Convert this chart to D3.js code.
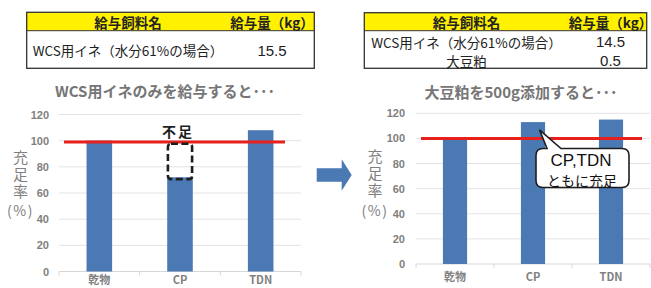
<!DOCTYPE html>
<html><head><meta charset="utf-8">
<script src="https://cdn.jsdelivr.net/npm/d3@7/dist/d3.min.js"></script>
<style>
html,body{margin:0;padding:0;background:#fff;}
svg{display:block;}
</style></head>
<body>
<svg id="c" width="651" height="288"></svg>
<script>
// ---- data ----
const categories = ["乾物", "CP", "TDN"];
const valuesBefore = [100, 72, 108];   // WCS用イネのみ
const valuesAfter = [99, 113, 115];    // 大豆粕500g添加
const requirementBefore = 99;
const requirementAfter = 100;
const yTicks = [0, 20, 40, 60, 80, 100, 120];
const tableHeader = ["給与飼料名", "給与量（kg）"];
const tableLeftFeeds = ["WCS用イネ（水分61%の場合）"];
const tableLeftAmounts = ["15.5"];
const tableRightFeeds = ["WCS用イネ（水分61%の場合）", "大豆粕"];
const tableRightAmounts = ["14.5", "0.5"];
const titleLeft = "WCS用イネのみを給与すると･･･";
const titleRight = "大豆粕を500g添加すると･･･";
const yTitleMain = "充足率";
const yTitleUnit = "(%)";
const shortLabel = "不足";
const calloutLines = ["CP,TDN", "ともに充足"];

// ---- style ----
const JP = "'Noto Sans CJK JP','Noto Sans',sans-serif";
const NUM = "'Liberation Sans',Arial,sans-serif";
const barColor = "#4a79b4";
const svg = d3.select("#c");

// ---- tables ----
function drawTable(x0, x1, y0, headerH, rowYs, feeds, amounts, bottom, colCenters) {
  const g = svg.append("g");
  g.append("rect").attr("x", x0).attr("y", y0).attr("width", x1 - x0).attr("height", headerH)
    .attr("fill", "#fff100");
  g.append("rect").attr("x", x0).attr("y", y0).attr("width", x1 - x0).attr("height", bottom - y0)
    .attr("fill", "none").attr("stroke", "#333").attr("stroke-width", 1.3);
  g.append("line").attr("x1", x0).attr("x2", x1).attr("y1", y0 + headerH).attr("y2", y0 + headerH)
    .attr("stroke", "#333").attr("stroke-width", 1);
  tableHeader.forEach((t, i) => {
    g.append("text").attr("x", colCenters[i]).attr("y", y0 + headerH / 2 + 0.5)
      .attr("text-anchor", "middle").attr("dominant-baseline", "central")
      .attr("font-family", JP).attr("font-weight", "bold").attr("font-size", 13.5)
      .attr("fill", "#222").text(t);
  });
  feeds.forEach((t, i) => {
    g.append("text").attr("x", colCenters[0]).attr("y", rowYs[i])
      .attr("text-anchor", "middle").attr("dominant-baseline", "central")
      .attr("font-family", JP).attr("font-size", 13.5).attr("fill", "#222").text(t);
    g.append("text").attr("x", colCenters[1]).attr("y", rowYs[i])
      .attr("text-anchor", "middle").attr("dominant-baseline", "central")
      .attr("font-family", NUM).attr("font-size", 15).attr("fill", "#222").text(amounts[i]);
  });
}
drawTable(26.7, 314.3, 12.3, 18.4, [50], tableLeftFeeds, tableLeftAmounts, 68.3, [128, 272]);
drawTable(364.3, 646.7, 12.7, 18, [41.7, 60.7], tableRightFeeds, tableRightAmounts, 68.3, [466.5, 610.5]);

// ---- charts ----
function drawChart(opt) {
  const g = svg.append("g");
  const y = d3.scaleLinear().domain([0, 120]).range([opt.y0, opt.y120]);
  const x = d3.scaleBand().domain(categories).range([opt.xl, opt.xr])
    .paddingInner(opt.pad).paddingOuter(opt.pad / 2);

  // gridlines
  g.selectAll(".grid").data(yTicks.filter(d => d > 0)).join("line")
    .attr("x1", opt.xl).attr("x2", opt.xr)
    .attr("y1", d => y(d)).attr("y2", d => y(d))
    .attr("stroke", "#e3e3e3").attr("stroke-width", 1);

  // y axis labels
  const ya = g.append("g").attr("transform", `translate(${opt.labelX},0)`)
    .call(d3.axisLeft(y).tickValues(yTicks).tickSize(0).tickPadding(0));
  ya.select(".domain").remove();
  ya.selectAll("text").attr("font-family", NUM).attr("font-weight", "bold")
    .attr("font-size", 11).attr("fill", "#808080");

  // x baseline + separator ticks
  g.append("line").attr("x1", opt.xl).attr("x2", opt.xr).attr("y1", y(0)).attr("y2", y(0))
    .attr("stroke", "#d6d6d6").attr("stroke-width", 1);
  const bounds = categories.map(c => x(c) - x.step() * opt.pad / 2).concat([opt.xr]);
  g.selectAll(".sep").data(bounds).join("line")
    .attr("x1", d => d).attr("x2", d => d).attr("y1", y(0)).attr("y2", y(0) + 4)
    .attr("stroke", "#d6d6d6");

  // bars
  g.selectAll(".bar").data(opt.values).join("rect")
    .attr("x", (d, i) => x(categories[i])).attr("width", x.bandwidth())
    .attr("y", d => y(d)).attr("height", d => y(0) - y(d))
    .attr("fill", barColor);

  // x labels
  const xa = g.append("g").attr("transform", `translate(0,${y(0) + opt.xLabelDy})`)
    .call(d3.axisBottom(x).tickSize(0).tickPadding(0));
  xa.select(".domain").remove();
  xa.selectAll("text").attr("font-family", JP).attr("font-weight", "bold")
    .attr("font-size", 11).attr("fill", "#808080").attr("dy", "0.32em");

  // requirement line
  g.append("line").attr("x1", opt.redX1).attr("x2", opt.redX2)
    .attr("y1", y(opt.req)).attr("y2", y(opt.req))
    .attr("stroke", "#e8201c").attr("stroke-width", 3);

  // title
  g.append("text").attr("x", opt.titleX).attr("y", opt.titleY)
    .attr("text-anchor", "middle").attr("dominant-baseline", "central")
    .attr("font-family", JP).attr("font-weight", "bold").attr("font-size", 15)
    .attr("fill", "#767676").text(opt.title);

  // y axis title: vertical text + unit
  g.append("text").attr("x", opt.yTitleX).attr("y", opt.yTitleY - 7.5)
    .style("writing-mode", "vertical-rl")
    .attr("letter-spacing", 2)
    .attr("font-family", JP).attr("font-size", 15).attr("fill", "#808080")
    .text(yTitleMain);
  g.append("text").attr("x", opt.yTitleX).attr("y", opt.yTitleY + 53)
    .attr("text-anchor", "middle").attr("dominant-baseline", "central")
    .attr("letter-spacing", 1.5)
    .attr("font-family", JP).attr("font-size", 14).attr("fill", "#808080")
    .text(yTitleUnit);
  return { g, x, y };
}

const L = drawChart({
  y0: 271.5, y120: 114.5, xl: 59, xr: 301, pad: 0.683, labelX: 49,
  values: valuesBefore, req: requirementBefore, redX1: 64, redX2: 285,
  title: titleLeft, titleX: 165, titleY: 90, yTitleX: 20.5, yTitleY: 157, xLabelDy: 8.5
});
const R = drawChart({
  y0: 264, y120: 113.3, xl: 416, xr: 650, pad: 0.69, labelX: 405,
  values: valuesAfter, req: requirementAfter, redX1: 421, redX2: 642,
  title: titleRight, titleX: 521, titleY: 91.5, yTitleX: 375, yTitleY: 156.5, xLabelDy: 13.7
});

// ---- annotations left: 不足 ----
{
  const x = L.x, y = L.y, bw = L.x.bandwidth();
  const cx = x("CP");
  L.g.append("rect").attr("x", cx + 0.7).attr("y", y(requirementBefore) + 1.8)
    .attr("width", bw - 1.4).attr("height", y(valuesBefore[1]) - y(requirementBefore))
    .attr("rx", 3).attr("fill", "none").attr("stroke", "#1e1e1e")
    .attr("stroke-width", 2.6).attr("stroke-dasharray", "7,3.5");
  L.g.append("text").attr("x", cx + bw / 2 - 2).attr("y", 131)
    .attr("text-anchor", "middle").attr("dominant-baseline", "central")
    .attr("font-family", JP).attr("font-weight", "bold").attr("font-size", 14)
    .attr("letter-spacing", 2).attr("fill", "#1e1e1e").text(shortLabel);
}

// ---- annotations right: callout ----
{
  const x = R.x, y = R.y, bw = R.x.bandwidth();
  const tipX = x("CP") + bw / 2 + 6.5, tipY = y(valuesAfter[1]) + 7.8;
  const x0 = 536, x1 = 629, y0 = 148.5, y1 = 187.5, r = 7, pb1 = 547, pb2 = 561;
  const p = `M${x0 + r},${y0} L${pb1},${y0} L${tipX},${tipY} L${pb2},${y0} L${x1 - r},${y0}
    Q${x1},${y0} ${x1},${y0 + r} L${x1},${y1 - r} Q${x1},${y1} ${x1 - r},${y1}
    L${x0 + r},${y1} Q${x0},${y1} ${x0},${y1 - r} L${x0},${y0 + r} Q${x0},${y0} ${x0 + r},${y0} Z`;
  R.g.append("path").attr("d", p).attr("fill", "#fff").attr("stroke", "#1e1e1e").attr("stroke-width", 1.6);
  R.g.append("text").attr("x", 581).attr("y", 160.3).attr("text-anchor", "middle")
    .attr("dominant-baseline", "central").attr("font-family", NUM).attr("font-size", 17)
    .attr("fill", "#111").text(calloutLines[0]);
  R.g.append("text").attr("x", 582).attr("y", 179.5).attr("text-anchor", "middle")
    .attr("dominant-baseline", "central").attr("font-family", JP).attr("font-size", 14)
    .attr("fill", "#111").text(calloutLines[1]);
}

// ---- arrow ----
svg.append("path")
  .attr("d", "M316.7,168.3 L341.7,168.3 L341.7,159.3 L351.7,175 L341.7,190.7 L341.7,181.7 L316.7,181.7 Z")
  .attr("fill", "#4a79b4");
</script>
</body></html>
